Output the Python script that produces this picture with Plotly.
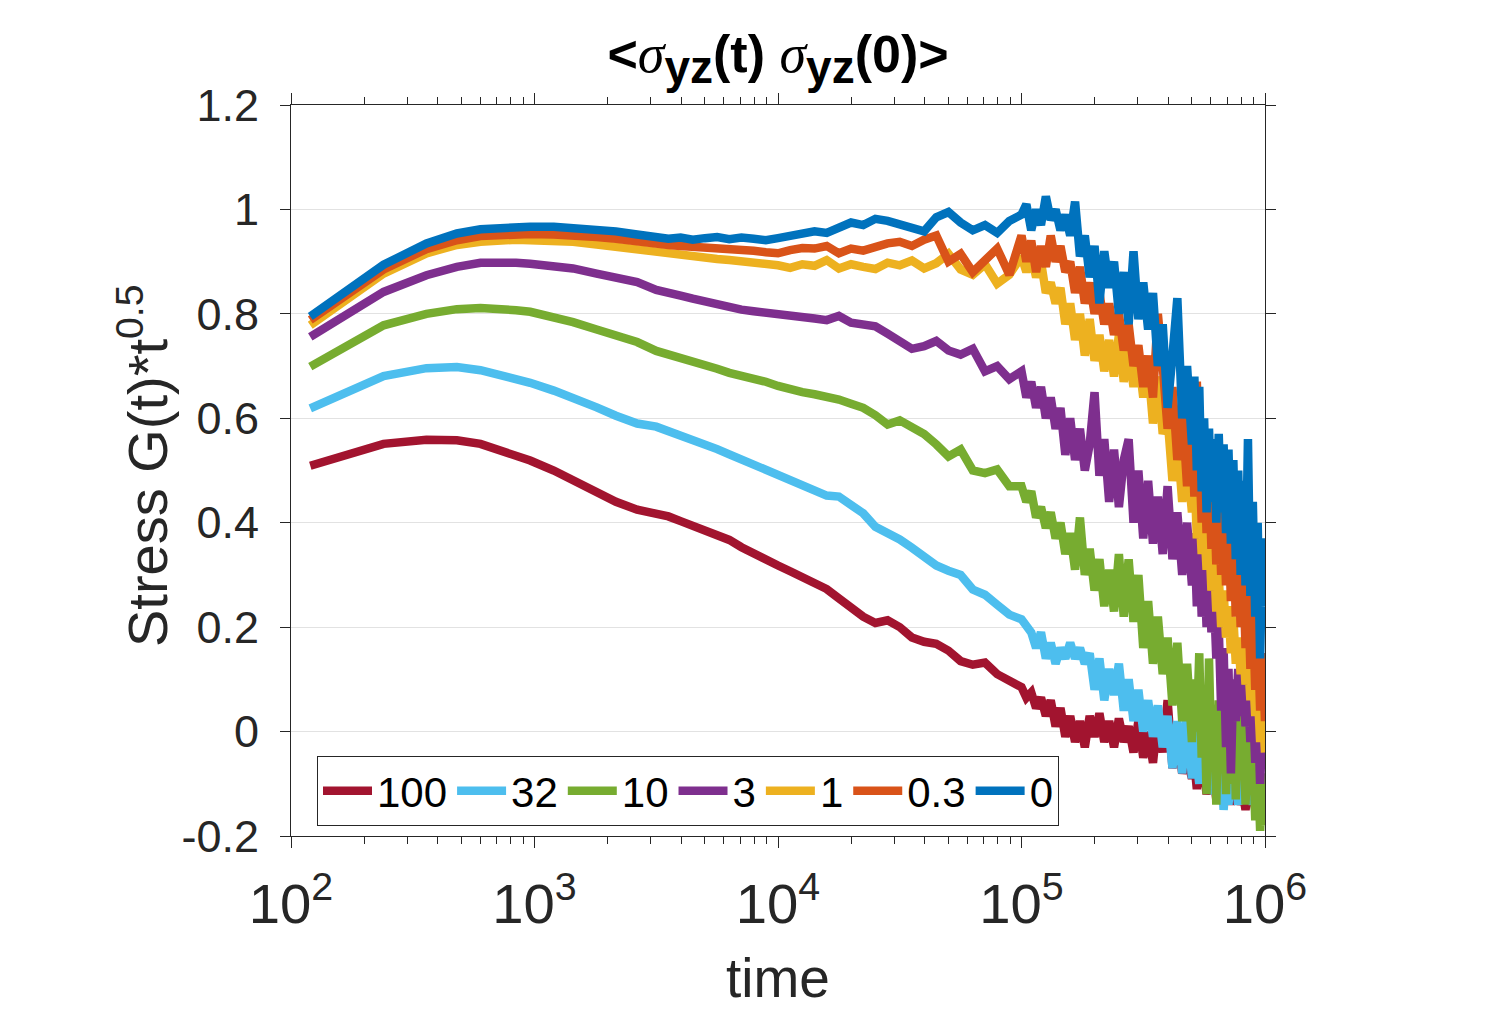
import plotly.graph_objects as go

# time values (x)
time = [120, 240, 360, 480, 600, 720, 840, 960, 1200, 1440, 1800, 2160, 2640,
        3162, 3548, 3981, 4467, 5012, 5623, 6310, 7079, 7943, 8913,
        10000, 11220, 12589, 14125, 15849, 17783, 19953, 22387, 25119, 28184,
        31623, 35481, 39811, 44668, 50119, 56234, 63096, 70795, 79433, 89125,
        100000, 104713, 109648, 114815, 120226, 125893, 131826, 138038, 144544, 151356,
        158489, 165959, 173780, 181970, 190546, 199526, 208930, 218776, 229087, 239883,
        251189, 263027, 275423, 288403, 301995, 316228, 331131, 346737, 363078, 380189,
        398107, 416869, 436516, 457088, 478630,
        501187, 512861, 524807, 537032, 549541, 562341, 575440, 588844, 602560, 616595,
        630957, 645654, 660693, 676083, 691831, 707946, 724436, 741310, 758578, 776247,
        794328, 812831, 831764, 851138, 870964, 891251, 912011, 933254, 954993, 977237,
        1000000]

g100 = [0.509, 0.551, 0.559, 0.558, 0.551, 0.540, 0.530, 0.519, 0.500, 0.480, 0.458, 0.440, 0.425,
        0.418, 0.412, 0.403, 0.394, 0.386, 0.378, 0.367, 0.353, 0.340, 0.330,
        0.318, 0.307, 0.297, 0.286, 0.273, 0.255, 0.236, 0.220, 0.208, 0.213,
        0.200, 0.180, 0.172, 0.168, 0.155, 0.135, 0.128, 0.132, 0.110, 0.098,
        0.085, 0.065, 0.075, 0.045, 0.065, 0.03, 0.06, 0.01, 0.045, -0.01,
        0.03, -0.02, 0.02, -0.03, 0.03, -0.01, 0.035, -0.02, 0.02, -0.03,
        0.025, -0.02, 0.01, -0.04, 0.02, -0.05, 0.00, -0.06, 0.03, -0.04,
        0.06, -0.07, -0.01, -0.08, -0.05,
        -0.09, -0.06, -0.11, -0.07, -0.10, -0.08, -0.12, -0.09, -0.11, -0.09,
        -0.13, -0.10, -0.12, -0.10, -0.13, -0.11, -0.14, -0.10, -0.13, -0.11,
        -0.14, -0.12, -0.15, -0.11, -0.14, -0.12, -0.15, -0.12, -0.14, -0.13,
        -0.15]

g32 = [0.619, 0.681, 0.696, 0.698, 0.692, 0.683, 0.676, 0.668, 0.653, 0.640, 0.621, 0.605, 0.590,
       0.584, 0.576, 0.568, 0.560, 0.551, 0.541, 0.531, 0.521, 0.512, 0.503,
       0.493, 0.480, 0.470, 0.461, 0.452, 0.450, 0.433, 0.418, 0.392, 0.382,
       0.368, 0.352, 0.336, 0.318, 0.308, 0.300, 0.272, 0.262, 0.243, 0.224,
       0.215, 0.205, 0.19, 0.16, 0.19, 0.14, 0.17, 0.13, 0.16, 0.14,
       0.17, 0.14, 0.16, 0.13, 0.15, 0.08, 0.14, 0.06, 0.12, 0.07,
       0.13, 0.04, 0.10, 0.02, 0.08, 0.00, 0.06, -0.01, 0.05, -0.03,
       0.03, -0.07, 0.02, -0.08, 0.04,
       -0.09, 0.03, -0.06, -0.10, -0.04, -0.09, -0.05, -0.11, -0.07, -0.12,
       -0.08, -0.13, -0.06, -0.15, -0.09, -0.14, -0.08, -0.12, -0.10, -0.14,
       -0.09, -0.12, -0.08, -0.13, -0.10, -0.14, -0.09, -0.12, -0.10, -0.13,
       -0.11]

g10 = [0.699, 0.778, 0.800, 0.809, 0.811, 0.810, 0.807, 0.804, 0.794, 0.784, 0.770, 0.759, 0.746,
       0.729, 0.723, 0.716, 0.710, 0.703, 0.695, 0.687, 0.682, 0.677, 0.670,
       0.662, 0.655, 0.650, 0.646, 0.643, 0.636, 0.628, 0.620, 0.606, 0.588,
       0.596, 0.582, 0.570, 0.550, 0.527, 0.540, 0.500, 0.495, 0.502, 0.470,
       0.47, 0.44, 0.46, 0.41, 0.43, 0.39, 0.42, 0.37, 0.40, 0.34,
       0.38, 0.31, 0.41, 0.30, 0.35, 0.27, 0.33, 0.24, 0.31, 0.23,
       0.34, 0.22, 0.33, 0.21, 0.30, 0.16, 0.25, 0.13, 0.22, 0.11,
       0.18, 0.05, 0.17, 0.02, 0.13,
       -0.02, 0.10, 0.00, 0.15, -0.05, 0.08, -0.12, 0.14, -0.06, 0.05,
       -0.14, 0.06, -0.08, 0.09, -0.12, 0.03, -0.10, 0.08, -0.13, 0.02,
       -0.09, 0.05, -0.14, 0.00, -0.12, -0.03, -0.17, -0.05, -0.19, -0.08,
       -0.18]

g3 = [0.756, 0.842, 0.874, 0.890, 0.898, 0.899, 0.898, 0.896, 0.892, 0.887, 0.877, 0.869, 0.861,
      0.846, 0.842, 0.835, 0.829, 0.823, 0.816, 0.812, 0.808, 0.805, 0.803,
      0.800, 0.797, 0.795, 0.791, 0.788, 0.796, 0.783, 0.781, 0.776, 0.762,
      0.748, 0.733, 0.738, 0.748, 0.730, 0.722, 0.733, 0.690, 0.700, 0.675,
      0.69, 0.64, 0.67, 0.62, 0.66, 0.60, 0.64, 0.58, 0.62, 0.53,
      0.60, 0.52, 0.58, 0.50, 0.55, 0.65, 0.49, 0.56, 0.44, 0.54,
      0.43, 0.52, 0.56, 0.40, 0.50, 0.37, 0.48, 0.36, 0.45, 0.34,
      0.47, 0.33, 0.42, 0.30, 0.40,
      0.28, 0.38, 0.24, 0.36, 0.22, 0.33, 0.20, 0.30, 0.19, 0.26,
      0.14, 0.20, 0.04, 0.16, -0.03, 0.12, -0.08, 0.10, 0.02, 0.12,
      0.03, 0.10, 0.01, 0.08, -0.02, 0.06, -0.06, 0.04, -0.10, 0.02,
      -0.07]

g1 = [0.778, 0.877, 0.916, 0.932, 0.938, 0.941, 0.942, 0.941, 0.940, 0.938, 0.933, 0.928, 0.922,
      0.918, 0.915, 0.912, 0.910, 0.907, 0.905, 0.903, 0.901, 0.898, 0.897,
      0.893, 0.888, 0.895, 0.892, 0.903, 0.887, 0.895, 0.890, 0.886, 0.898,
      0.893, 0.902, 0.887, 0.897, 0.915, 0.885, 0.875, 0.895, 0.858, 0.875,
      0.91, 0.88, 0.915, 0.87, 0.90, 0.84, 0.86, 0.82, 0.85, 0.78,
      0.82, 0.75, 0.80, 0.72, 0.79, 0.71, 0.76, 0.69, 0.75, 0.68,
      0.76, 0.67, 0.73, 0.66, 0.72, 0.64, 0.70, 0.59, 0.68, 0.57,
      0.60, 0.48, 0.56, 0.44, 0.52,
      0.42, 0.50, 0.37, 0.43, 0.34, 0.40, 0.31, 0.38, 0.27, 0.33,
      0.23, 0.30, 0.20, 0.27, 0.18, 0.24, 0.15, 0.22, 0.13, 0.18,
      0.11, 0.17, 0.09, 0.14, 0.06, 0.12, 0.03, 0.08, -0.02, 0.05,
      -0.04]

g03 = [0.788, 0.885, 0.924, 0.941, 0.949, 0.952, 0.953, 0.953, 0.952, 0.951, 0.947, 0.944, 0.938,
       0.934, 0.932, 0.930, 0.929, 0.927, 0.925, 0.925, 0.923, 0.921, 0.918,
       0.916, 0.922, 0.926, 0.925, 0.930, 0.916, 0.925, 0.921, 0.929, 0.935,
       0.938, 0.930, 0.942, 0.950, 0.900, 0.915, 0.880, 0.900, 0.925, 0.875,
       0.95, 0.90, 0.94, 0.88, 0.93, 0.89, 0.95, 0.90, 0.93, 0.88,
       0.90, 0.84, 0.89, 0.82, 0.86, 0.80, 0.84, 0.78, 0.82, 0.76,
       0.80, 0.73, 0.78, 0.70, 0.74, 0.66, 0.72, 0.64, 0.80, 0.70,
       0.58, 0.66, 0.52, 0.62, 0.47,
       0.58, 0.45, 0.67, 0.50, 0.40, 0.55, 0.38, 0.50, 0.35, 0.47,
       0.32, 0.44, 0.30, 0.42, 0.28, 0.40, 0.25, 0.37, 0.22, 0.34,
       0.20, 0.32, 0.16, 0.28, 0.12, 0.24, 0.08, 0.20, 0.04, 0.15,
       0.02]

g0 = [0.795, 0.894, 0.935, 0.954, 0.962, 0.965, 0.967, 0.967, 0.967, 0.965, 0.962, 0.958, 0.952,
      0.945, 0.944, 0.946, 0.942, 0.945, 0.947, 0.943, 0.946, 0.944, 0.941,
      0.945, 0.950, 0.952, 0.958, 0.955, 0.966, 0.975, 0.970, 0.982, 0.978,
      0.972, 0.965, 0.958, 0.985, 0.995, 0.975, 0.960, 0.970, 0.955, 0.978,
      0.99, 1.01, 0.96, 1.0, 0.97, 1.025, 0.98, 1.0, 0.96, 0.99,
      0.95, 1.015, 0.91, 0.95, 0.87, 0.93, 0.82, 0.92, 0.85, 0.90,
      0.80, 0.88, 0.78, 0.92, 0.79, 0.86, 0.77, 0.84, 0.70, 0.78,
      0.62, 0.72, 0.83, 0.60, 0.70,
      0.55, 0.68, 0.50, 0.66, 0.46, 0.60, 0.42, 0.58, 0.44, 0.56,
      0.40, 0.57, 0.42, 0.55, 0.38, 0.54, 0.36, 0.52, 0.33, 0.50,
      0.30, 0.48, 0.28, 0.56, 0.26, 0.44, 0.22, 0.40, 0.14, 0.37,
      0.24]

series_names = ["100", "32", "10", "3", "1", "0.3", "0"]
series_values = [g100, g32, g10, g3, g1, g03, g0]
series_colors = ["#A2142F", "#4DBEEE", "#77AC30", "#7E2F8E", "#EDB120", "#D95319", "#0072BD"]

y_tick_vals = [-0.2, 0, 0.2, 0.4, 0.6, 0.8, 1.0, 1.2]
y_tick_text = ["-0.2", "0", "0.2", "0.4", "0.6", "0.8", "1", "1.2"]

FONT = "Liberation Sans, Arial, Helvetica, sans-serif"
AX = "#262626"

fig = go.Figure()
for name, vals, col in zip(series_names, series_values, series_colors):
    n = min(len(time), len(vals))
    fig.add_trace(go.Scatter(x=time[:n], y=vals[:n], mode="lines", name=name,
                             line=dict(color=col, width=8.5)))

W, H = 1503, 1011
L, R, T, B = 291, 1265, 105, 836

sig = "<span style=\"font-family:'Liberation Serif',serif;font-weight:normal;font-style:italic;font-size:54px\">σ</span>"
sub = "<sub><span style=\"font-size:46px\">yz</span></sub>"
title_text = "<b>&lt;" + sig + sub + "(t) " + sig + sub + "(0)&gt;</b>"

fig.update_layout(
    width=W, height=H,
    margin=dict(l=L, r=W - R, t=T, b=H - B),
    paper_bgcolor="white", plot_bgcolor="white",
    font=dict(family=FONT, color=AX, size=45),
    title=dict(text=title_text, x=(L + R) / 2 / W, xanchor="center",
               y=1 - 54 / H, yanchor="middle",
               font=dict(family=FONT, size=52, color="black")),
    showlegend=True,
    legend=dict(orientation="h", x=(317 - L) / (R - L), y=(B - 756) / (B - T),
                xanchor="left", yanchor="top",
                bgcolor="white", bordercolor=AX, borderwidth=1,
                font=dict(family=FONT, size=42, color="black"),
                itemwidth=49, tracegroupgap=0),
    xaxis=dict(type="log", range=[2, 6], dtick=1, exponentformat="power",
               showgrid=False, zeroline=False,
               showline=True, linecolor=AX, linewidth=1, mirror="ticks",
               ticks="outside", ticklen=11, tickcolor=AX, tickwidth=1,
               ticklabelstandoff=10,
               minor=dict(ticks="outside", ticklen=7, tickcolor=AX, showgrid=False),
               tickfont=dict(family=FONT, size=45, color=AX)),
    yaxis=dict(range=[-0.2, 1.2], tickvals=y_tick_vals, ticktext=y_tick_text,
               showgrid=True, gridcolor="#e2e2e2", gridwidth=1, zeroline=False,
               showline=True, linecolor=AX, linewidth=1, mirror="ticks",
               ticks="outside", ticklen=10, tickcolor=AX, tickwidth=1,
               ticklabelstandoff=12,
               tickfont=dict(family=FONT, size=45, color=AX)),
    annotations=[
        dict(text="time", xref="paper", yref="paper",
             x=0.5, y=(B - 978) / (B - T), xanchor="center", yanchor="middle",
             showarrow=False, font=dict(family=FONT, size=55, color=AX)),
        dict(text="Stress G(t)*t<sup>0.5</sup>", xref="paper", yref="paper",
             x=(143 - L) / (R - L), y=(B - 466) / (B - T), xanchor="center", yanchor="middle",
             textangle=-90, showarrow=False, font=dict(family=FONT, size=56, color=AX)),
    ],
)

fig.write_html("out.html", include_plotlyjs=True, config={"displayModeBar": False})
